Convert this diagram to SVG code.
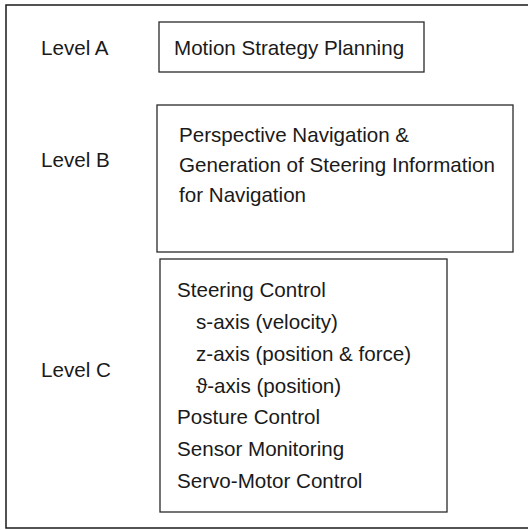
<svg xmlns="http://www.w3.org/2000/svg" width="528" height="530" viewBox="0 0 528 530">
<style>
  text { font-family: "Liberation Sans", Arial, sans-serif; font-size: 20.6px; fill: #1a1a1a; }
  .box { fill: none; stroke: #2a2a2a; stroke-width: 1.3; }
  .frame { fill: none; stroke: #1a1a1a; stroke-width: 1.5; }
</style>
<rect width="528" height="530" fill="#ffffff"/>
<rect class="frame" x="6" y="5" width="540" height="523"/>
<g id="labels">
  <text x="41" y="55">Level A</text>
  <text x="41" y="167">Level B</text>
  <text x="41" y="377">Level C</text>
</g>
<g id="nodeA">
  <rect class="box" x="159" y="22" width="265" height="50"/>
  <text x="174" y="55">Motion Strategy Planning</text>
</g>
<g id="nodeB">
  <rect class="box" x="157" y="105" width="356" height="147"/>
  <text x="179" y="142">Perspective Navigation &amp;</text>
  <text x="179" y="172">Generation of Steering Information</text>
  <text x="179" y="202">for Navigation</text>
</g>
<g id="nodeC">
  <rect class="box" x="160" y="259" width="287" height="253"/>
  <text x="177" y="297">Steering Control</text>
  <text x="196" y="329">s-axis (velocity)</text>
  <text x="196" y="361">z-axis (position &amp; force)</text>
  <text x="196" y="393">ϑ-axis (position)</text>
  <text x="177" y="424">Posture Control</text>
  <text x="177" y="456">Sensor Monitoring</text>
  <text x="177" y="488">Servo-Motor Control</text>
</g>
<g id="connectors"></g>
</svg>
